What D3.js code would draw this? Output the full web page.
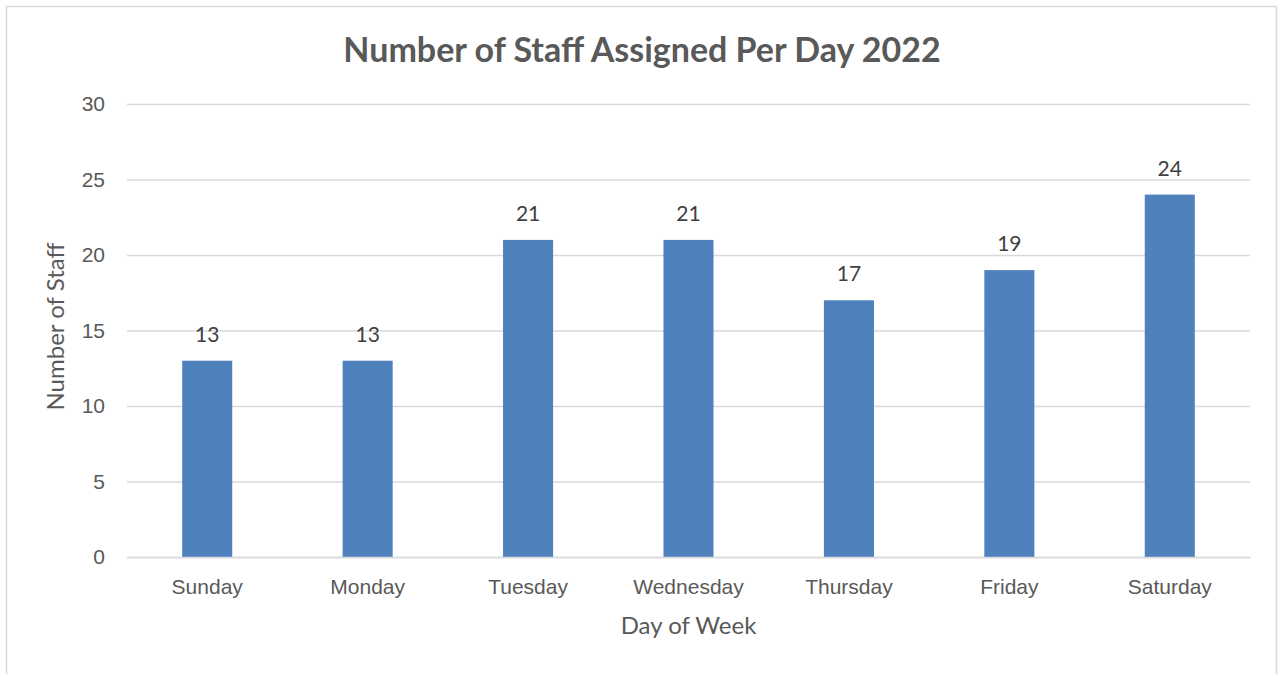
<!DOCTYPE html>
<html>
<head>
<meta charset="utf-8">
<script src="https://cdn.jsdelivr.net/npm/d3@7"></script>
<style>
  body { margin: 0; background: #fff; }
  svg { display: block; font-family: Lato, 'Open Sans', sans-serif; }
</style>
</head>
<body>
<svg width="1280" height="674"></svg>
<script>
(function (d3) {
  'use strict';

  const days = ['Sunday', 'Monday', 'Tuesday', 'Wednesday', 'Thursday', 'Friday', 'Saturday'];
  const staff = [13, 13, 21, 21, 17, 19, 24];
  const yTicks = [0, 5, 10, 15, 20, 25, 30];

  const svg = d3.select('svg');
  const width = +svg.attr('width');
  const height = +svg.attr('height');

  const margin = {top: 104, right: 30, bottom: 117, left: 127};
  const innerWidth = width - margin.left - margin.right;
  const innerHeight = height - margin.top - margin.bottom;

  // chart frame
  svg.append('rect')
    .attr('x', 6.5).attr('y', 6.5)
    .attr('width', 1270).attr('height', 700)
    .attr('fill', 'none')
    .attr('stroke', '#d9d9d9')
    .attr('stroke-width', 1.5);

  const data = days.map((d, i) => ({day: d, value: staff[i]}));

  const xScale = d3.scaleBand()
    .domain(days)
    .range([0, innerWidth])
    .paddingInner(0.688)
    .paddingOuter(0.344);

  const yScale = d3.scaleLinear()
    .domain([0, 30])
    .range([innerHeight, 0]);

  const g = svg.append('g')
    .attr('transform', `translate(${margin.left}, ${margin.top})`);

  // gridlines + y labels
  const yAxis = d3.axisLeft(yScale)
    .tickValues(yTicks)
    .tickSize(-innerWidth)
    .tickPadding(22);

  const yAxisG = g.append('g').call(yAxis);
  yAxisG.select('.domain').remove();
  yAxisG.selectAll('line').attr('stroke', '#d9d9d9').attr('stroke-width', 1.3);
  yAxisG.selectAll('text')
    .attr('fill', '#595959')
    .style('font-size', '21px');

  g.selectAll('rect.bar').data(data)
    .enter().append('rect')
      .attr('class', 'bar')
      .attr('x', d => xScale(d.day))
      .attr('y', d => yScale(d.value))
      .attr('width', xScale.bandwidth())
      .attr('height', d => innerHeight - yScale(d.value))
      .attr('fill', '#4f81bd');

  // data labels
  g.selectAll('text.label').data(data)
    .enter().append('text')
      .attr('class', 'label')
      .attr('x', d => xScale(d.day) + xScale.bandwidth() / 2)
      .attr('y', d => yScale(d.value) - 19)
      .attr('text-anchor', 'middle')
      .attr('fill', '#404040')
      .style('font-size', '21px')
      .text(d => d.value);

  const xAxis = d3.axisBottom(xScale).tickSize(0).tickPadding(22);
  const xAxisG = g.append('g')
    .attr('transform', `translate(0, ${innerHeight})`)
    .call(xAxis);
  xAxisG.select('.domain').attr('stroke', '#d9d9d9').attr('stroke-width', 1.3);
  xAxisG.selectAll('text')
    .attr('fill', '#595959')
    .style('font-size', '21px');

  g.append('text')
    .attr('x', innerWidth / 2)
    .attr('y', innerHeight + 77)
    .attr('text-anchor', 'middle')
    .attr('fill', '#595959')
    .style('font-size', '24px')
    .text('Day of Week');

  g.append('text')
    .attr('transform', `translate(${55 - margin.left + 9}, ${innerHeight / 2 - 4}) rotate(-90)`)
    .attr('text-anchor', 'middle')
    .attr('fill', '#595959')
    .style('font-size', '24px')
    .text('Number of Staff');

  svg.append('text')
    .attr('x', 642)
    .attr('y', 62)
    .attr('text-anchor', 'middle')
    .attr('fill', '#595959')
    .style('font-size', '34px')
    .style('font-weight', 'bold')
    .text('Number of Staff Assigned Per Day 2022');

}(d3));
</script>
</body>
</html>
